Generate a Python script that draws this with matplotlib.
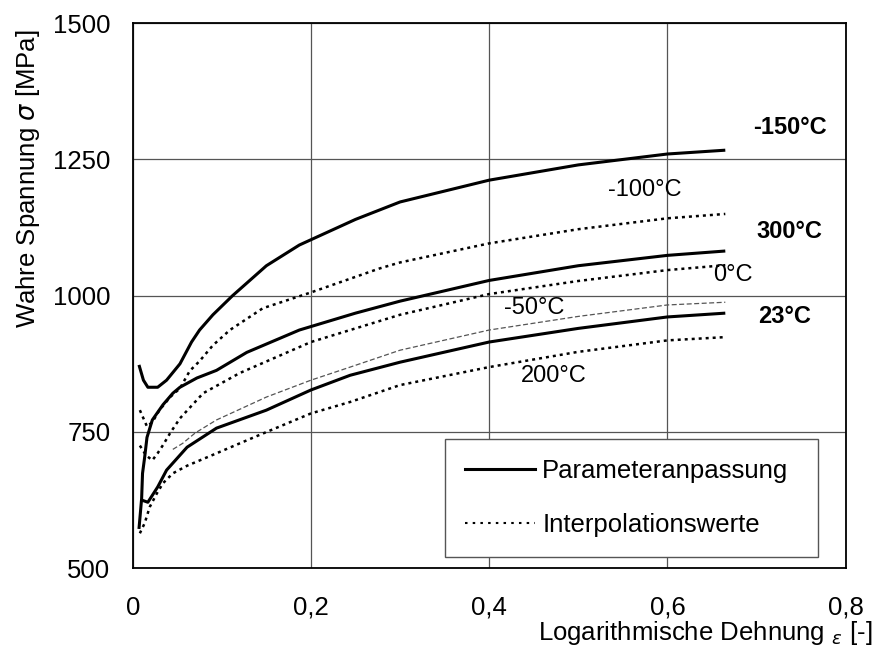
import matplotlib.pyplot as plt
from matplotlib.lines import Line2D

plt.rcParams['font.family'] = ['Liberation Sans', 'DejaVu Sans']
plt.rcParams['mathtext.fontset'] = 'dejavusans'

# Parameteranpassung (solid)
eps_m150 = [0.007, 0.012, 0.017, 0.028, 0.038, 0.053, 0.066, 0.075, 0.09, 0.112,
            0.15, 0.187, 0.25, 0.3, 0.4, 0.5, 0.6, 0.665]
sig_m150 = [873, 845, 832, 832, 845, 875, 915, 937, 965, 1000,
            1055, 1093, 1140, 1172, 1212, 1240, 1260, 1267]

eps_300 = [0.007, 0.010, 0.011, 0.0135, 0.016, 0.022, 0.034, 0.045, 0.053, 0.072,
           0.094, 0.128, 0.187, 0.25, 0.3, 0.4, 0.5, 0.6, 0.665]
sig_300 = [572, 628, 674, 705, 740, 772, 800, 821, 832, 849,
           863, 896, 937, 968, 990, 1028, 1055, 1074, 1082]

eps_23 = [0.010, 0.017, 0.028, 0.038, 0.061, 0.094, 0.15, 0.2, 0.244, 0.3,
          0.4, 0.5, 0.6, 0.665]
sig_23 = [625, 621, 649, 680, 722, 757, 790, 827, 854, 878,
          915, 940, 961, 968]

# Interpolationswerte (dotted)
eps_m100 = [0.008, 0.016, 0.022, 0.03, 0.042, 0.053, 0.064, 0.075, 0.09, 0.109,
            0.146, 0.2, 0.277, 0.3, 0.4, 0.5, 0.6, 0.665]
sig_m100 = [790, 760, 768, 790, 814, 830, 862, 880, 909, 937,
            977, 1006, 1050, 1061, 1096, 1122, 1142, 1150]

eps_0 = [0.008, 0.015, 0.022, 0.028, 0.034, 0.042, 0.053, 0.079, 0.12, 0.2,
         0.3, 0.4, 0.5, 0.6, 0.665]
sig_0 = [725, 707, 698, 711, 726, 748, 775, 821, 858, 915,
         965, 1003, 1027, 1047, 1056]

eps_m50 = [0.045, 0.056, 0.07, 0.094, 0.15, 0.2, 0.244, 0.3, 0.4, 0.5, 0.6, 0.665]
sig_m50 = [718, 729, 748, 772, 814, 845, 869, 900, 937, 962, 983, 988]

eps_200 = [0.008, 0.0135, 0.019, 0.027, 0.034, 0.045, 0.061, 0.09, 0.12, 0.143,
           0.2, 0.244, 0.3, 0.4, 0.5, 0.6, 0.665]
sig_200 = [564, 583, 612, 637, 656, 674, 688, 708, 729, 745,
           784, 805, 836, 869, 897, 918, 924]

x_ticks = [0, 0.2, 0.4, 0.6, 0.8]
x_tick_labels = ['0', '0,2', '0,4', '0,6', '0,8']
y_ticks = [500, 750, 1000, 1250, 1500]

fig = plt.figure(figsize=(8.79, 6.63), dpi=100)
ax = fig.add_axes([0.151, 0.143, 0.811, 0.822])

solid = dict(color='black', lw=2.2, solid_capstyle='butt')
dotted = dict(color='black', lw=1.8, ls=(0, (1.2, 1.6)))
ax.plot(eps_m150, sig_m150, **solid)
ax.plot(eps_300, sig_300, **solid)
ax.plot(eps_23, sig_23, **solid)
ax.plot(eps_m100, sig_m100, **dotted)
ax.plot(eps_0, sig_0, **dotted)
ax.plot(eps_200, sig_200, **dotted)
ax.plot(eps_m50, sig_m50, color='#555555', lw=0.9, ls=(0, (4, 2)))

ax.set_xlim(0, 0.8)
ax.set_ylim(500, 1500)
ax.set_xticks(x_ticks)
ax.set_xticklabels(x_tick_labels)
ax.set_yticks(y_ticks)
ax.tick_params(length=0, labelsize=18.5)
ax.tick_params(axis='x', pad=20)
ax.tick_params(axis='y', pad=16)
ax.grid(True, color='#555555', lw=0.9)
ax.set_axisbelow(True)
for s in ax.spines.values():
    s.set_linewidth(1.3)

fs = 17
ax.text(0.737, 1309, '-150°C', fontsize=fs, fontweight='bold', ha='center', va='center')
ax.text(0.737, 1117, '300°C', fontsize=fs, fontweight='bold', ha='center', va='center')
ax.text(0.731, 962, '23°C', fontsize=fs, fontweight='bold', ha='center', va='center')
ax.text(0.575, 1194, '-100°C', fontsize=fs, ha='center', va='center')
ax.text(0.673, 1038, '0°C', fontsize=fs, ha='center', va='center')
ax.text(0.451, 977, '-50°C', fontsize=fs, ha='center', va='center')
ax.text(0.472, 852, '200°C', fontsize=fs, ha='center', va='center')

handles = [Line2D([], [], color='black', lw=2.2),
           Line2D([], [], color='black', lw=1.5, ls=(0, (1.2, 2.5)))]
leg = ax.legend(handles, ['Parameteranpassung', 'Interpolationswerte'],
                loc='lower left', bbox_to_anchor=(0.4376, 0.020, 0.523, 0.211),
                mode='expand', borderaxespad=0, fontsize=18.5, handlelength=2.7,
                handletextpad=0.3, labelspacing=1.15, borderpad=0.8,
                fancybox=False, framealpha=1)
leg.get_frame().set_edgecolor('#555555')
leg.get_frame().set_linewidth(1.0)

fig.text(0.992, 0.066, r'Logarithmische Dehnung $_{\varepsilon}$ [-]', fontsize=18.5,
         ha='right', va='top')
fig.text(0.032, 0.955, r'Wahre Spannung $\sigma$ [MPa]', fontsize=18.5,
         rotation=90, ha='center', va='top')

fig.savefig('out.png', dpi=100)
